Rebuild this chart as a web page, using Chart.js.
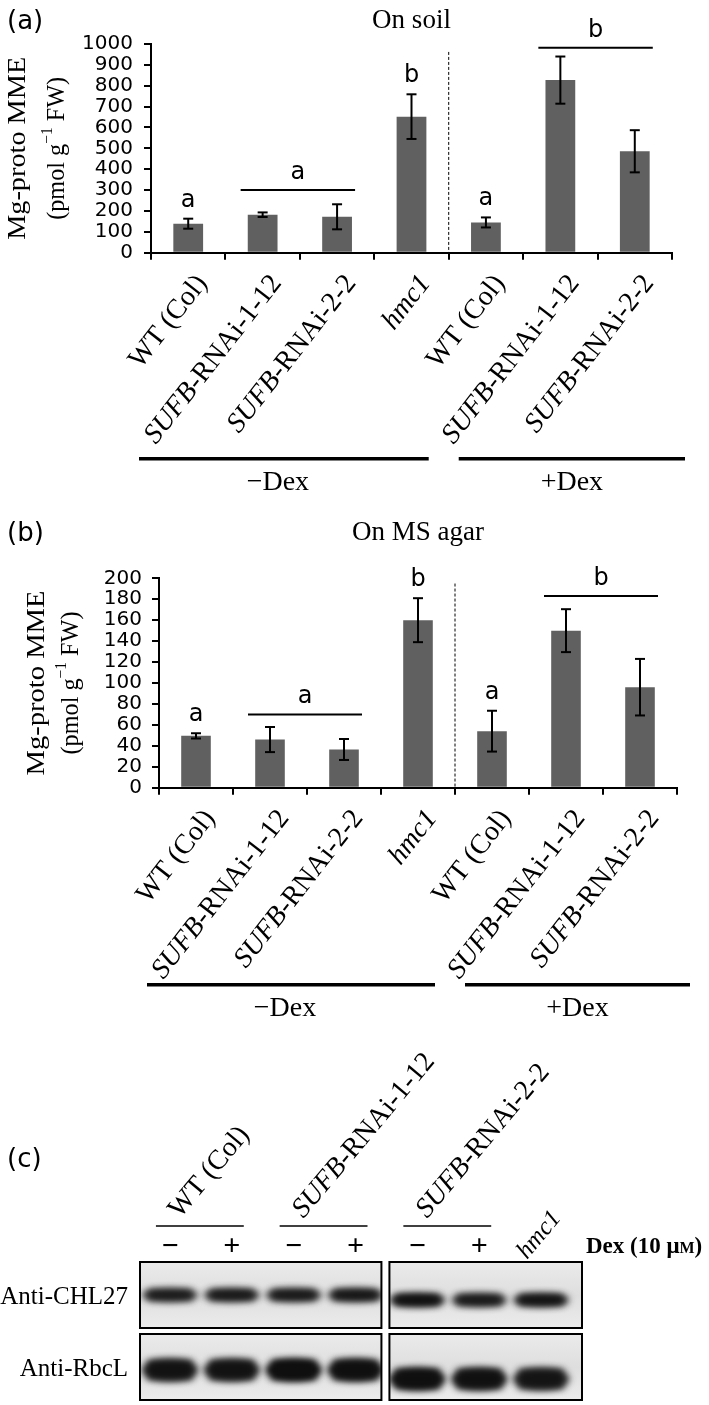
<!DOCTYPE html>
<html><head><meta charset="utf-8">
<script src="https://cdn.jsdelivr.net/npm/chart.js@4.4.1/dist/chart.umd.min.js"></script>
<style>
html,body{margin:0;padding:0;background:#fff}
body{width:709px;height:1405px;position:relative;overflow:hidden}
.wrap{position:absolute;left:0;width:709px}
canvas{display:block}
</style></head>
<body>
<div class="wrap" style="top:0;height:500px"><canvas id="ca"></canvas></div>
<div class="wrap" style="top:500px;height:530px"><canvas id="cb"></canvas></div>
<div class="wrap" style="top:1030px;height:375px"><canvas id="cc"></canvas></div>
<script>
// ---------- data ----------
const categories = ['WT (Col)','SUFB-RNAi-1-12','SUFB-RNAi-2-2','hmc1','WT (Col)','SUFB-RNAi-1-12','SUFB-RNAi-2-2'];
const soilMeans = [139,182,172,652,145,827,486];
const soilErrors = [24,11,60,107,24,113,101];
const soilLetters = ['a','','','b','a','',''];
const soilGroups = [{letter:'a',from:1,to:2,level:300},{letter:'b',from:5,to:6,level:982}];
const soilAxis = {min:0,max:1000,step:100};
const agarMeans = [49.5,46,36.5,160,54,150,96];
const agarErrors = [2.5,12,10,21,19.5,20.5,27];
const agarLetters = ['a','','','b','a','',''];
const agarGroups = [{letter:'a',from:1,to:2,level:70},{letter:'b',from:5,to:6,level:183}];
const agarAxis = {min:0,max:200,step:20};
const treatments = [{label:'\u2212Dex',from:0,to:3},{label:'+Dex',from:4,to:6}];
const yTitle1 = 'Mg-proto MME';
const yTitle2 = ['(pmol g','\u22121',' FW)'];

const lanes = ['WT (Col) \u2212','WT (Col) +','SUFB-RNAi-1-12 \u2212','SUFB-RNAi-1-12 +','SUFB-RNAi-2-2 \u2212','SUFB-RNAi-2-2 +','hmc1'];
const dexSigns = ['\u2212','+','\u2212','+','\u2212','+',''];
const laneGroups = [{label:'WT (Col)',from:0,to:1},{label:'SUFB-RNAi-1-12',from:2,to:3},{label:'SUFB-RNAi-2-2',from:4,to:5}];
const blotRows = ['Anti-CHL27','Anti-RbcL'];
const chl27Band = [0.80,0.82,0.82,0.85,0.95,0.82,0.90];
const rbclBand  = [0.88,0.88,1.00,0.95,0.97,0.92,0.85];

// ---------- helpers ----------
const SERIF = '"Liberation Serif","Times New Roman",serif';
const SANS = '"DejaVu Sans",sans-serif';
const ANG = 52*Math.PI/180;
const ANG_C = 50*Math.PI/180;
function segsOf(label){
  if(label.startsWith('SUFB')) return [{t:'SUFB',it:true},{t:label.slice(4),it:false}];
  if(label==='hmc1') return [{t:'hmc1',it:true}];
  return [{t:label,it:false}];
}
function drawSegs(ctx, segs, size, align){
  const w = segs.map(s=>{ctx.font=(s.it?'italic ':'')+size+'px '+SERIF;return ctx.measureText(s.t).width;});
  const total = w.reduce((a,b)=>a+b,0);
  let x = align==='right' ? -total : 0;
  segs.forEach((s,i)=>{ctx.font=(s.it?'italic ':'')+size+'px '+SERIF;ctx.fillText(s.t,x,0);x+=w[i];});
}
function line(ctx,x1,y1,x2,y2){ctx.beginPath();ctx.moveTo(x1,y1);ctx.lineTo(x2,y2);ctx.stroke();}

function decor(cfg){
  return {id:'decor',afterDraw(chart){
    const {ctx,scales:{x,y},chartArea:ca}=chart;
    ctx.save();
    ctx.strokeStyle='#000';ctx.fillStyle='#000';
    // error bars
    ctx.lineWidth=2;
    cfg.means.forEach((m,i)=>{
      const cx=x.getPixelForValue(i),t=y.getPixelForValue(m+cfg.errors[i]),b=y.getPixelForValue(m-cfg.errors[i]);
      line(ctx,cx,t,cx,b);line(ctx,cx-5,t,cx+5,t);line(ctx,cx-5,b,cx+5,b);
    });
    // letters
    ctx.font='24px '+SANS;ctx.textAlign='center';ctx.textBaseline='alphabetic';
    cfg.letters.forEach((l,i)=>{ if(!l) return;
      ctx.fillText(l,x.getPixelForValue(i),y.getPixelForValue(cfg.means[i]+cfg.errors[i])-12);});
    cfg.groups.forEach(g=>{
      const yy=y.getPixelForValue(g.level),x1=x.getPixelForValue(g.from)-22,x2=x.getPixelForValue(g.to)+18;
      ctx.lineWidth=2;line(ctx,x1,yy,x2,yy);
      ctx.fillText(g.letter,(x1+x2)/2,yy-11);
    });
    // dashed separator
    const sx=(x.getPixelForValue(3)+x.getPixelForValue(4))/2;
    ctx.setLineDash([3,2]);ctx.lineWidth=1;
    line(ctx,sx,y.getPixelForValue(cfg.sepTop),sx,ca.bottom);
    ctx.setLineDash([]);
    // rotated category labels
    ctx.textBaseline='middle';ctx.textAlign='left';
    categories.forEach((c,i)=>{
      ctx.save();
      ctx.translate(x.getPixelForValue(i)+14,ca.bottom+26);
      ctx.rotate(-ANG);
      drawSegs(ctx,segsOf(c),28,'right');
      ctx.restore();
    });
    // treatment lines
    const half=(x.getPixelForValue(1)-x.getPixelForValue(0))/2;
    treatments.forEach((t,k)=>{
      const x1=x.getPixelForValue(t.from)-half+(k===0?-12:10);
      const x2=x.getPixelForValue(t.to)+half+(k===0?-20:13);
      ctx.lineWidth=3.5;line(ctx,x1,ca.bottom+cfg.treatY,x2,ca.bottom+cfg.treatY);
      ctx.font='28px '+SERIF;ctx.textAlign='center';ctx.textBaseline='middle';
      ctx.fillText(t.label,(x1+x2)/2-(k===0?6:0),ca.bottom+cfg.treatY+24);
    });
    // title
    ctx.font='27px '+SERIF;ctx.textAlign='center';ctx.textBaseline='middle';
    ctx.fillText(cfg.title,(ca.left+ca.right)/2,cfg.titleY);
    // panel label
    ctx.font='26px '+SANS;ctx.textAlign='left';
    ctx.fillText(cfg.panel,7,cfg.titleY+1);
    // y title (two lines, rotated)
    const cy=(ca.top+ca.bottom)/2;
    ctx.save();ctx.translate(cfg.yt1,cy);ctx.rotate(-Math.PI/2);
    ctx.font='25px '+SERIF;ctx.textAlign='center';ctx.textBaseline='middle';
    let w=ctx.measureText(yTitle1).width;ctx.scale(cfg.len1/w,1);ctx.fillText(yTitle1,0,0);ctx.restore();
    ctx.save();ctx.translate(cfg.yt2,cy);ctx.rotate(-Math.PI/2);ctx.textAlign='left';ctx.textBaseline='middle';
    ctx.font='25px '+SERIF;const a=ctx.measureText(yTitle2[0]).width,c=ctx.measureText(yTitle2[2]).width;
    ctx.font='16px '+SERIF;const b=ctx.measureText(yTitle2[1]).width;
    const tot=a+b+c;ctx.scale(cfg.len2/tot,1);
    let px=-tot/2;ctx.font='25px '+SERIF;ctx.fillText(yTitle2[0],px,0);px+=a;
    ctx.font='16px '+SERIF;ctx.fillText(yTitle2[1],px,-9);px+=b;
    ctx.font='25px '+SERIF;ctx.fillText(yTitle2[2],px,0);
    ctx.restore();
    ctx.restore();
  }};
}

function barChart(id,cfg){
  return new Chart(document.getElementById(id),{
    type:'bar',
    data:{labels:categories,datasets:[{data:cfg.means,backgroundColor:'#606060',borderWidth:0,barPercentage:0.4,categoryPercentage:1}]},
    options:{responsive:true,maintainAspectRatio:false,animation:false,
      layout:{padding:{left:0,right:cfg.padRight,top:cfg.padTop,bottom:0}},
      plugins:{legend:{display:false},tooltip:{enabled:false}},
      scales:{
        x:{grid:{display:true,offset:true,drawOnChartArea:false,drawTicks:true,tickLength:7,color:'#000',lineWidth:2},
           border:{display:true,color:'#000',width:2},ticks:{display:false},
           afterFit:s=>{s.height=cfg.xHeight;}},
        y:{min:cfg.axis.min,max:cfg.axis.max,
           ticks:{stepSize:cfg.axis.step,autoSkip:false,color:'#000',font:{family:'DejaVu Sans',size:20},padding:cfg.tickPad,
                  callback:v=>String(v)},
           grid:{drawOnChartArea:false,drawTicks:true,tickLength:7,color:'#000',lineWidth:2},
           border:{display:true,color:'#000',width:2},
           afterFit:s=>{s.width=cfg.yWidth;}}
      }},
    plugins:[decor(cfg)]
  });
}

barChart('ca',{means:soilMeans,errors:soilErrors,letters:soilLetters,groups:soilGroups,axis:soilAxis,
  padRight:37,padTop:44,xHeight:247.3,yWidth:151,tickPad:11,sepTop:962,treatY:206,
  title:'On soil',titleY:21,panel:'(a)',yt1:18,yt2:57,len1:183,len2:143});
barChart('cb',{means:agarMeans,errors:agarErrors,letters:agarLetters,groups:agarGroups,axis:agarAxis,
  padRight:32,padTop:78.3,xHeight:242.3,yWidth:159,tickPad:10,sepTop:195,treatY:197,
  title:'On MS agar',titleY:33,panel:'(b)',yt1:37,yt2:71,len1:185,len2:143});

// ---------- panel (c) blot ----------
const blotPlugin={id:'blot',afterDraw(chart){
  const {ctx,scales:{x,y},chartArea:ca}=chart;
  ctx.save();ctx.fillStyle='#000';ctx.strokeStyle='#000';
  const split=(x.getPixelForValue(3)+x.getPixelForValue(4))/2;
  const boxes=[[ca.left+1,split-5,0,4],[split+3,ca.right+10,4,7]];
  const bands=[chl27Band,rbclBand];
  blotRows.forEach((r,ri)=>{
    const cy=y.getPixelForValue(ri+0.5);
    const top=cy-33,h=66;
    boxes.forEach(([b1,b2,l1,l2],bi)=>{
      ctx.save();ctx.beginPath();ctx.rect(b1,top,b2-b1,h);ctx.clip();
      const g=ctx.createLinearGradient(0,top,0,top+h);
      g.addColorStop(0,'#ebebeb');g.addColorStop(0.5,'#dedede');g.addColorStop(1,'#ececec');
      ctx.fillStyle=g;ctx.fillRect(b1,top,b2-b1,h);
      ctx.filter='blur(3.5px)';
      for(let li=l1;li<l2;li++){
        const lx=x.getPixelForValue(li),inten=bands[ri][li];
        const bh=ri===0?13:22, dy=(ri===0?0:3)+(bi===1?(ri===0?5:9):0);
        const bw=(x.getPixelForValue(1)-x.getPixelForValue(0))*0.92;
        ctx.fillStyle='rgba(15,15,15,'+inten+')';
        ctx.beginPath();ctx.ellipse(lx,cy+dy,bw/2,bh/2,0,0,Math.PI*2);ctx.fill();
        ctx.fillRect(lx-bw/2+6,cy+dy-bh/2+1,bw-12,bh-2);
      }
      ctx.filter='none';ctx.restore();
      ctx.lineWidth=2;ctx.strokeRect(b1,top,b2-b1,h);
    });
    ctx.fillStyle='#000';ctx.font='25px '+SERIF;ctx.textAlign='right';ctx.textBaseline='middle';
    ctx.fillText(r,ca.left-11,cy+2);
  });
  // dex signs
  ctx.font='bold 30px '+SERIF;ctx.textAlign='center';ctx.textBaseline='middle';
  dexSigns.forEach((s,i)=>{ if(s) ctx.fillText(s,x.getPixelForValue(i),ca.top-12);});
  // Dex label
  ctx.textAlign='left';ctx.font='bold 23px '+SERIF;
  let px=586;const py=ca.top-12;
  ctx.fillText('Dex (10 \u03bc',px,py);px+=ctx.measureText('Dex (10 \u03bc').width;
  ctx.font='bold 16px '+SERIF;ctx.fillText('M',px,py+2);px+=ctx.measureText('M').width;
  ctx.font='bold 23px '+SERIF;ctx.fillText(')',px,py);
  // group lines + rotated names
  ctx.lineWidth=1.5;
  laneGroups.forEach(g=>{
    const x1=x.getPixelForValue(g.from)-14,x2=x.getPixelForValue(g.to)+12,ly=ca.top-33;
    line(ctx,x1,ly,x2,ly);
    ctx.save();ctx.translate((x1+x2)/2-20,ly-7);ctx.rotate(-ANG_C);
    ctx.textBaseline='alphabetic';drawSegs(ctx,segsOf(g.label),28,'left');ctx.restore();
  });
  // hmc1 lane label
  ctx.save();ctx.translate(x.getPixelForValue(6)-14,ca.top+1);ctx.rotate(-ANG_C);
  ctx.textBaseline='alphabetic';drawSegs(ctx,segsOf(lanes[6]),25,'left');ctx.restore();
  // panel label
  ctx.font='26px '+SANS;ctx.textAlign='left';ctx.textBaseline='middle';
  ctx.fillText('(c)',7,130);
  ctx.restore();
}};
new Chart(document.getElementById('cc'),{
  type:'line',
  data:{labels:lanes,datasets:[]},
  options:{responsive:true,maintainAspectRatio:false,animation:false,
    layout:{padding:{left:139,right:137,top:229,bottom:2}},
    plugins:{legend:{display:false},tooltip:{enabled:false}},
    scales:{x:{type:'category',offset:true,display:false},
            y:{type:'linear',min:0,max:2,reverse:true,display:false}}},
  plugins:[blotPlugin]
});
</script>
</body></html>
